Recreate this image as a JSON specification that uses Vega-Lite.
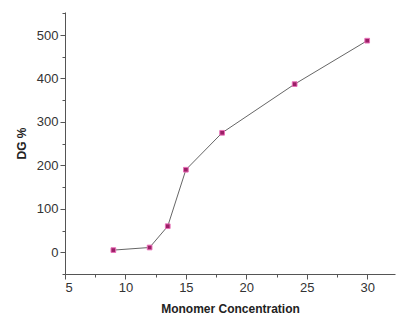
{
  "$schema": "https://vega.github.io/schema/vega-lite/v6.json",
  "autosize": "none",
  "width": 330,
  "height": 262,
  "padding": {"left": 65, "top": 12, "right": 1, "bottom": 46},
  "background": "white",
  "config": {
    "view": {"stroke": null},
    "axis": {"grid": false, "domainColor": "#555", "tickColor": "#555", "labelFont": "Liberation Sans", "titleFont": "Liberation Sans", "labelColor": "#333", "titleColor": "#222", "labelFontSize": 13, "titleFontSize": 12, "titleFontWeight": "bold"}
  },
  "data": {"values": [
    {"conc": 9, "dg": 5},
    {"conc": 12, "dg": 11},
    {"conc": 13.5, "dg": 60},
    {"conc": 15, "dg": 190},
    {"conc": 18, "dg": 275},
    {"conc": 24, "dg": 387},
    {"conc": 30, "dg": 487}
  ]},
  "resolve": {"axis": {"x": "independent", "y": "independent"}},
  "layer": [
    {
      "mark": {"type": "line", "color": "#666", "strokeWidth": 1},
      "encoding": {
        "x": {"field": "conc", "type": "quantitative", "scale": {"domain": [5, 32.3], "nice": false, "zero": false},
          "axis": {"orient": "bottom", "values": [5, 10, 15, 20, 25, 30], "title": "Monomer Concentration", "tickSize": 5, "titlePadding": 9}},
        "y": {"field": "dg", "type": "quantitative", "scale": {"domain": [-50, 553], "nice": false, "zero": false},
          "axis": {"orient": "left", "values": [0, 100, 200, 300, 400, 500], "title": "DG %", "tickSize": 5, "titlePadding": 8}}
      }
    },
    {
      "mark": {"type": "point", "opacity": 0},
      "encoding": {
        "x": {"field": "conc", "type": "quantitative",
          "axis": {"orient": "bottom", "values": [7.5, 12.5, 17.5, 22.5, 27.5], "labels": false, "domain": false, "title": null, "tickSize": 3}},
        "y": {"field": "dg", "type": "quantitative",
          "axis": {"orient": "left", "values": [-50, 50, 150, 250, 350, 450, 550], "labels": false, "domain": false, "title": null, "tickSize": 3}}
      }
    },
    {
      "mark": {"type": "point", "shape": "square", "filled": true, "size": 22, "color": "#9b1f66", "stroke": "#e870b8", "strokeWidth": 1, "opacity": 1},
      "encoding": {
        "x": {"field": "conc", "type": "quantitative", "axis": null},
        "y": {"field": "dg", "type": "quantitative", "axis": null}
      }
    }
  ]
}
